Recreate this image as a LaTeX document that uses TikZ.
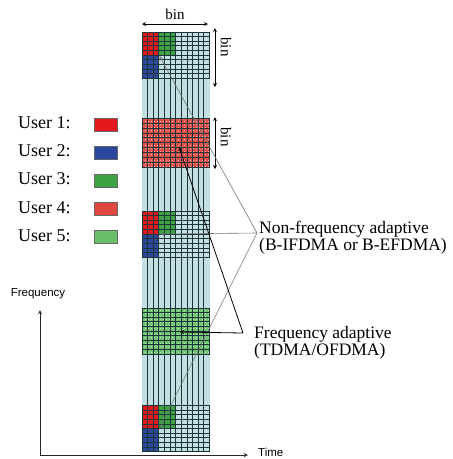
\documentclass[tikz,border=0pt]{standalone}
\usepackage{fontspec}
\setmainfont{Liberation Serif}
\setsansfont{Liberation Sans}
\usetikzlibrary{arrows, calc, patterns}
\tikzset{>=stealth}
\definecolor{colbg}{HTML}{C2E0E2}
\definecolor{gridc}{HTML}{1B3438}
\definecolor{uone}{HTML}{E3191E}
\definecolor{utwo}{HTML}{2C479E}
\definecolor{uthree}{HTML}{3DA343}
\definecolor{ufour}{HTML}{E0473F}
\definecolor{ufive}{HTML}{6BBF6B}
\tikzset{
  txt/.style={font=\fontsize{18}{18}\selectfont, inner sep=0pt},
  stxt/.style={font=\fontsize{17.5}{17.5}\selectfont, inner sep=0pt},
  axlab/.style={font=\sffamily\fontsize{11.5}{13}\selectfont, inner sep=0pt},
  binlab/.style={font=\fontsize{15}{15}\selectfont, inner sep=0pt},
  swatch/.style={draw=black!60, line width=0.4pt, minimum width=23pt, minimum height=13pt, inner sep=0pt},
  gridline/.style={gridc, line width=0.85pt},
  nfline/.style={->, black!55, line width=0.6pt},
  faline/.style={->, black, line width=0.8pt},
}

\begin{document}
\begin{tikzpicture}[x=1pt, y=-1pt]
    \useasboundingbox (0,0) rectangle (453,459);
    % frequency column
    \fill [colbg] (142,32) rectangle (209.5,452);
    % users 4 and 5: whole bin
    \fill [ufour] (142,118.5) rectangle (209.5,167);
    \fill [pattern=crosshatch dots, pattern color=red!20] (142,118.5) rectangle (209.5,167);
    \fill [ufive] (142,308) rectangle (209.5,354);
    \fill [pattern=crosshatch dots, pattern color=green!20] (142,308) rectangle (209.5,354);
    % users 1, 2, 3: distributed subcarriers
    \foreach \t in {32, 211, 405.5} {
        \fill [uone] (142,\t) rectangle (158.9,\t+23.1);
        \fill [uthree] (158.9,\t) rectangle (175.75,\t+23.1);
        \fill [utwo] (142,\t+23.1) rectangle (158.9,\t+46.2);
        \foreach \j in {0,...,10}
            \draw [gridline] (142,\t+\j*4.62) -- (209.5,\t+\j*4.62);
        \draw [gridline] (142,\t) -- (142,\t+46.2);
        \draw [gridline] (209.5,\t) -- (209.5,\t+46.2);
    }
    \foreach \j in {0,...,10} {
        \draw [gridline] (142,118.5+\j*4.85) -- (209.5,118.5+\j*4.85);
        \draw [gridline] (142,308+\j*4.6) -- (209.5,308+\j*4.6);
    }
    \draw [gridline] (142,118.5) rectangle (209.5,167);
    \draw [gridline] (142,308) rectangle (209.5,354);
    \foreach \i in {1,...,11}
        \draw [gridline] (142+\i*5.625,32) -- (142+\i*5.625,452);

    % bin arrows
    \coordinate (bl) at (142,24);
    \coordinate (br) at (208,24);
    \draw [<->, thick] (bl) -- (br) node [binlab, midway, above=4pt] (bintop) {bin};
    \coordinate (bat) at (215,28);
    \coordinate (bab) at (215,87);
    \draw [<->, thick] (bat) -- (bab);
    \node [binlab, rotate=-90] (binone) at (226,47) {bin};
    \coordinate (bbt) at (215,117);
    \coordinate (bbb) at (215,169);
    \draw [<->, thick] (bbt) -- (bbb);
    \node [binlab, rotate=-90] (bintwo) at (226,137) {bin};

    % legend
    \node [txt, anchor=base west] (u1) at (18,128.3) {User 1:};
    \node [txt, anchor=base west] (u2) at (18,156.5) {User 2:};
    \node [txt, anchor=base west] (u3) at (18,184.8) {User 3:};
    \node [txt, anchor=base west] (u4) at (18,213.1) {User 4:};
    \node [txt, anchor=base west] (u5) at (18,241.4) {User 5:};
    \node [swatch, fill=uone] (s1) at (106,124.5) {};
    \node [swatch, fill=utwo] (s2) at (106,152.5) {};
    \node [swatch, fill=uthree] (s3) at (106,180.5) {};
    \node [swatch, fill=ufour] (s4) at (106,208.5) {};
    \node [swatch, fill=ufive] (s5) at (106,236.5) {};

    % schemes
    \node [stxt, anchor=north west, align=left] (nfa) at (259,220.5) {Non-frequency adaptive\\(B-IFDMA or B-EFDMA)};
    \node [stxt, anchor=north west, align=left] (fa) at (254,326) {Frequency adaptive\\(TDMA/OFDMA)};
    \coordinate (nftip) at (257,233);
    \coordinate (fatip) at (243,333);
    \coordinate (da) at (159.5,56);
    \coordinate (db) at (160,234);
    \coordinate (dc) at (159.5,428);
    \coordinate (dd) at (179,147);
    \coordinate (de) at (180,332);
    \draw [nfline] (nftip) -- (da);
    \draw [nfline] (nftip) -- (db);
    \draw [nfline] (nftip) -- (dc);
    \draw [faline] (fatip) -- (dd);
    \draw [faline] (fatip) -- (de);

    % axes
    \coordinate (orig) at (40,455);
    \coordinate (ftop) at (40,310);
    \coordinate (tend) at (248,455);
    \draw [->, black!85, line width=0.9pt] (orig) -- (ftop);
    \draw [->, black!85, line width=0.9pt] (orig) -- (tend);
    \node [axlab] (flab) at (38,294) {Frequency};
    \node [axlab, anchor=west] (tlab) at (258,452.5) {Time};
\end{tikzpicture}
\end{document}
